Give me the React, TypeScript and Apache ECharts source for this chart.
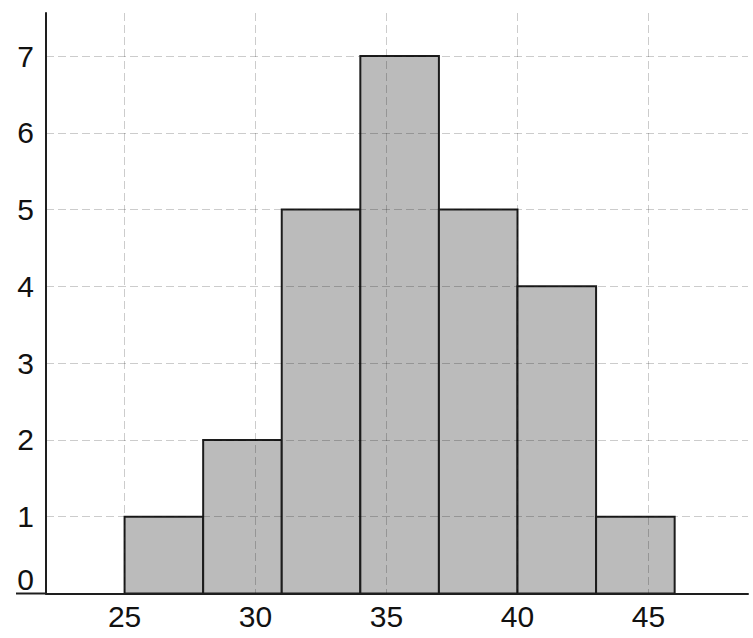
import React, { useEffect, useRef } from "react";
import * as echarts from "echarts";

// Histogram bins (value range of each bin) and their counts
const binStarts = [25, 28, 31, 34, 37, 40, 43];
const binEnds = [28, 31, 34, 37, 40, 43, 46];
const counts = [1, 2, 5, 7, 5, 4, 1];

// Tick labels shown on the axes
const xTickLabels = ["25", "30", "35", "40", "45"];
const yTickLabels = ["0", "1", "2", "3", "4", "5", "6", "7"];

const FONT = "'Liberation Sans', Arial, Helvetica, sans-serif";

export default function App() {
  const ref = useRef<HTMLDivElement>(null);

  useEffect(() => {
    if (!ref.current) return;
    const chart = echarts.init(ref.current, null, { renderer: "svg" });
    const data = binStarts.map((s, i) => [s, binEnds[i], counts[i]]);

    chart.setOption({
      animation: false,
      backgroundColor: "#ffffff",
      grid: { left: 46, right: 5, top: 13, bottom: 44.5, containLabel: false },
      xAxis: {
        type: "value",
        min: 22,
        max: 48.8,
        minInterval: 5,
        maxInterval: 5,
        z: 5,
        axisLine: { show: true, onZero: true, lineStyle: { color: "#1e1e1e", width: 2 } },
        axisTick: { show: false },
        axisLabel: {
          show: true,
          showMinLabel: false,
          showMaxLabel: false,
          margin: 8,
          color: "#111111",
          fontSize: 30,
          fontFamily: FONT,
          formatter: (v: number) => (xTickLabels.includes(String(v)) ? String(v) : ""),
        },
        splitLine: {
          show: true,
          showMinLine: false,
          showMaxLine: false,
          lineStyle: { color: "rgba(0,0,0,0.2)", width: 1, type: [8, 4] },
        },
      },
      yAxis: {
        type: "value",
        min: 0,
        max: 7.56,
        minInterval: 1,
        maxInterval: 1,
        z: 5,
        axisLine: { show: true, lineStyle: { color: "#1e1e1e", width: 2 } },
        axisTick: { show: false },
        axisLabel: {
          show: true,
          showMaxLabel: false,
          margin: 12,
          color: "#111111",
          fontSize: 30,
          fontFamily: FONT,
          formatter: (v: number) => {
            const s = String(v);
            if (!yTickLabels.includes(s)) return "";
            return s === "0" ? "{z|" + s + "}" : "{n|" + s + "}";
          },
          rich: {
            z: { fontSize: 30, fontFamily: FONT, color: "#111111", padding: [0, 0, 29, 0] },
            n: { fontSize: 30, fontFamily: FONT, color: "#111111" },
          },
        },
        splitLine: {
          show: true,
          showMinLine: false,
          showMaxLine: false,
          lineStyle: { color: "rgba(0,0,0,0.2)", width: 1, type: [8, 4] },
        },
      },
      graphic: [
        {
          type: "line",
          shape: { x1: 16, y1: 593.5, x2: 46, y2: 593.5 },
          style: { stroke: "#1e1e1e", lineWidth: 2 },
          z: 10,
        },
      ],
      series: [
        {
          type: "custom",
          z: 2,
          data,
          encode: { x: [0, 1], y: 2 },
          renderItem: (_params: any, api: any) => {
            const x0 = api.value(0);
            const x1 = api.value(1);
            const y = api.value(2);
            const p0 = api.coord([x0, y]);
            const p1 = api.coord([x1, 0]);
            return {
              type: "rect",
              shape: { x: p0[0], y: p0[1], width: p1[0] - p0[0], height: p1[1] - p0[1] },
              style: { fill: "#bbbbbb", stroke: "#1c1c1c", lineWidth: 2 },
            };
          },
        },
      ],
    });

    return () => chart.dispose();
  }, []);

  return (
    <div
      ref={ref}
      style={{ position: "fixed", left: 0, top: 0, width: 753, height: 638, background: "#fff" }}
    />
  );
}
